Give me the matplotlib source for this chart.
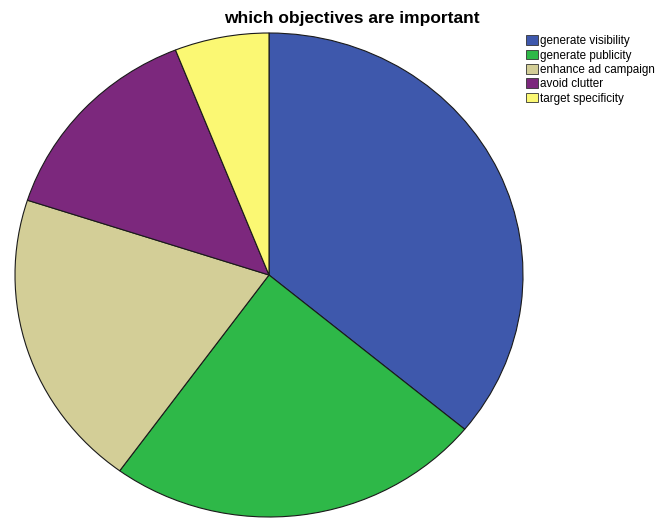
import matplotlib
matplotlib.use("Agg")
import matplotlib.pyplot as plt

labels = ["generate visibility", "generate publicity", "enhance ad campaign",
          "avoid clutter", "target specificity"]
values = [36, 24, 20, 14, 6]
colors = ["#3E58AC", "#2EB848", "#D3CE97", "#7C287D", "#FBF873"]

plt.rcParams['font.family'] = ['Liberation Sans', 'DejaVu Sans']

fig = plt.figure(figsize=(6.72, 5.2), dpi=100)
W, H = 672, 520
l, t, r, b = 15, 33, 523, 517
ax = fig.add_axes([l / W, 1 - b / H, (r - l) / W, (b - t) / H])
wedges, _ = ax.pie(values, colors=colors, startangle=90, counterclock=False,
                   radius=1.0,
                   wedgeprops=dict(edgecolor="#1a1a1a", linewidth=0.8))
ax.set_aspect('auto')
ax.set_xlim(-1, 1)
ax.set_ylim(-1, 1)
ax.axis('off')

fig.text(352 / W, 1 - 19 / H, "which objectives are important",
         ha='center', va='center', fontsize=12.5, fontweight='bold')

leg = fig.legend(wedges, labels, loc='upper left',
                 bbox_to_anchor=(523.5 / W, 1 - 33 / H),
                 frameon=False, fontsize=8.4, handlelength=1.0,
                 handleheight=0.9, handletextpad=0.25, labelspacing=0.2,
                 borderaxespad=0, borderpad=0.2)
for h in leg.legend_handles:
    h.set_edgecolor("#333333")
    h.set_linewidth(0.6)

fig.savefig("out.png", dpi=100)
